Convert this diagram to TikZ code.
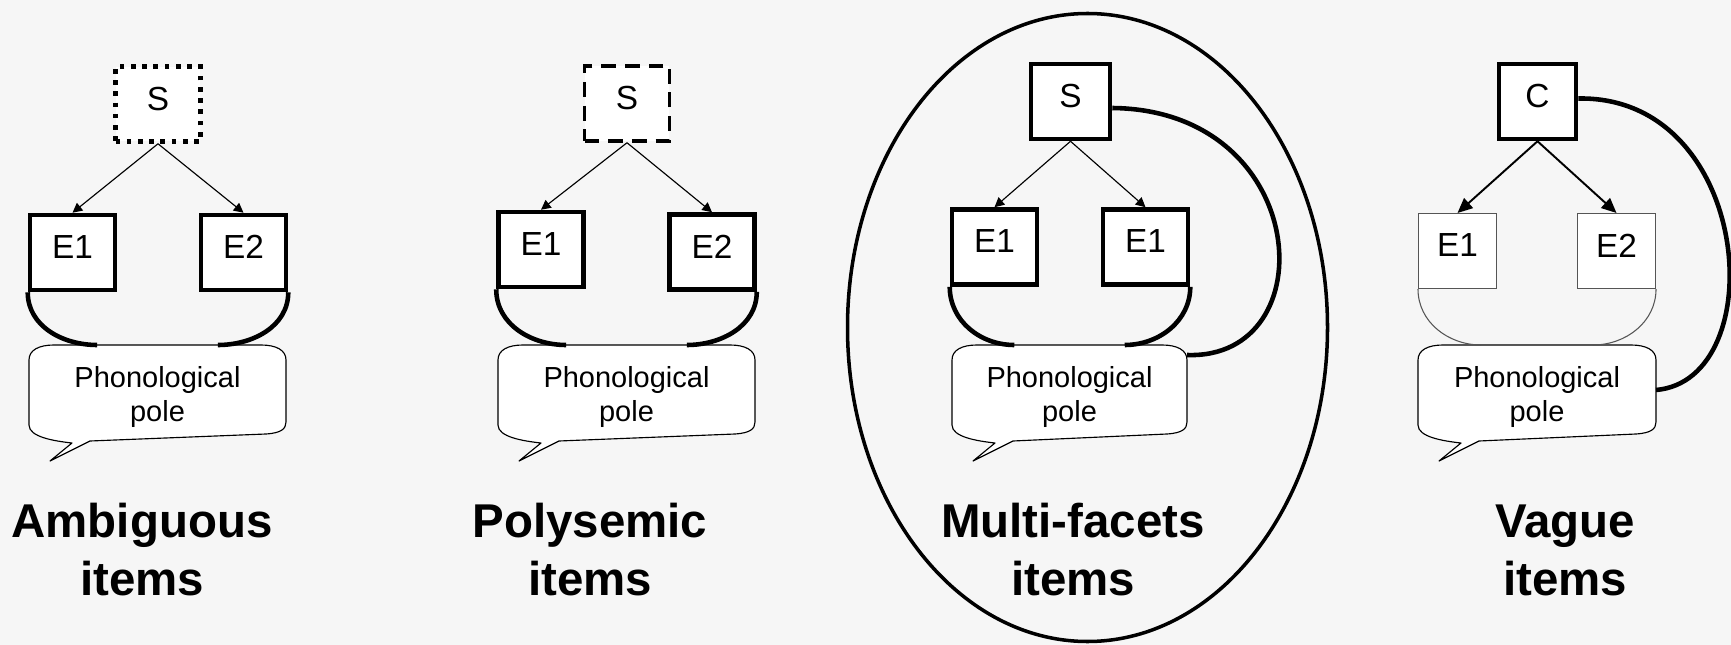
\documentclass[tikz,border=0pt]{standalone}
\usepackage{fontspec}
\setmainfont{Liberation Sans}
\usetikzlibrary{arrows.meta, calc}

\definecolor{bgpaper}{HTML}{F6F6F6}
\definecolor{thinline}{HTML}{555555}

\tikzset{
	sense/.style={draw, fill=white, line width=2.6pt, minimum width=1.7cm, minimum height=1.5cm, inner sep=0pt, text depth=0.22cm, font=\fontsize{19}{22}\selectfont},
	thinsense/.style={sense, draw=thinline, line width=0.6pt, minimum width=1.56cm},
	link/.style={line width=0.65pt, -{Triangle[length=5.5pt, width=5.5pt]}},
	boldlink/.style={line width=1.1pt, -{Triangle[length=8.5pt, width=7.5pt]}},
	bond/.style={line width=2.6pt},
	thinbond/.style={line width=0.6pt, draw=thinline},
	polebox/.style={draw, fill=white, line width=0.65pt, line join=round},
	poletext/.style={align=center, inner sep=0pt, font=\fontsize{16.5}{19.5}\selectfont},
	itemtitle/.style={align=center, inner sep=0pt, font=\fontsize{27}{33}\selectfont\bfseries},
	pics/pole/.style={code={
		\draw[polebox] (0,15) -- (0,80)
			.. controls (0,92) and (25,96) .. (43,98)
			-- (21,116) -- (61,96)
			-- ({#1-20},89)
			.. controls ({#1-5},88) and (#1,84) .. (#1,77)
			-- (#1,15)
			.. controls (#1,5) and ({#1-10},0) .. ({#1-25},0)
			-- (25,0)
			.. controls (10,0) and (0,5) .. (0,15) -- cycle;
		\node[poletext] (-t) at ({#1/2},52) {Phonological\\pole};
		\coordinate (-l) at ({0.265*#1},0);
		\coordinate (-r) at ({0.735*#1},0);
		\coordinate (-ne) at (#1,0);
	}}
}

\begin{document}
\begin{tikzpicture}[x=0.02cm, y=-0.02cm]
	\useasboundingbox (0,0) rectangle (1731,645);
	\fill[bgpaper] (0,0) rectangle (1731,645);
	\draw[line width=2pt] (1087.5,327.5) ellipse [x radius=240, y radius=314];

	\pic (pole1) at (29,345) {pole=257};
	\pic (pole2) at (498,345) {pole=257};
	\pic (pole3) at (952,345) {pole=235};
	\pic (pole4) at (1418,345) {pole=238};

	\node[sense, dash pattern=on 2.6pt off 3.8pt] (s1) at (158,104) {S};
	\node[sense] (e1a) at (72.5,252.5) {E1};
	\node[sense] (e1b) at (243.5,252.5) {E2};
	\draw[link] (s1.south) -- (e1a.north);
	\draw[link] (s1.south) -- (e1b.north);
	\draw[bond] (e1a.south west) to[out=-90, in=180] (pole1-l);
	\draw[bond] (e1b.south east) to[out=-90, in=0] (pole1-r);

	\node[sense, line width=2pt, dash pattern=on 8.5pt off 5pt] (s2) at (627,103.5) {S};
	\node[sense] (e2a) at (541,249.5) {E1};
	\node[sense] (e2b) at (712,252) {E2};
	\draw[link] (s2.south) -- (e2a.north);
	\draw[link] (s2.south) -- (e2b.north);
	\draw[bond] (e2a.south west) to[out=-90, in=180] (pole2-l);
	\draw[bond] (e2b.south east) to[out=-90, in=0] (pole2-r);

	\node[sense, minimum width=1.58cm] (s3) at (1070.5,101.5) {S};
	\node[sense] (e3a) at (994.5,247) {E1};
	\node[sense] (e3b) at (1145.5,247) {E1};
	\draw[link] (s3.south) -- (e3a.north);
	\draw[link] (s3.south) -- (e3b.north);
	\draw[bond] (e3a.south west) to[out=-90, in=180] (pole3-l);
	\draw[bond] (e3b.south east) to[out=-90, in=0] (pole3-r);
	\draw[bond] ($(s3.east)+(0,6.5)$) .. controls +(200,2) and +(140,5) .. ($(pole3-ne)+(0,10)$);

	\node[sense, minimum width=1.54cm] (s4) at (1537.5,101.5) {C};
	\node[thinsense] (e4a) at (1457.5,251) {E1};
	\node[thinsense] (e4b) at (1616.5,251) {E2};
	\draw[boldlink] (s4.south) -- (e4a.north);
	\draw[boldlink] (s4.south) -- (e4b.north);
	\draw[thinbond] (e4a.south west) to[out=-90, in=180] (pole4-l);
	\draw[thinbond] (e4b.south east) to[out=-90, in=0] (pole4-r);
	\draw[bond] ($(s4.east)+(0,-3)$) .. controls +(175,-3) and +(117,-10) .. ($(pole4-ne)+(0,45)$);

	\node[itemtitle] (t1) at (142,550) {Ambiguous\\items};
	\node[itemtitle] (t2) at (590,550) {Polysemic\\items};
	\node[itemtitle] (t3) at (1073,550) {Multi-facets\\items};
	\node[itemtitle] (t4) at (1565,550) {Vague\\items};
\end{tikzpicture}
\end{document}
